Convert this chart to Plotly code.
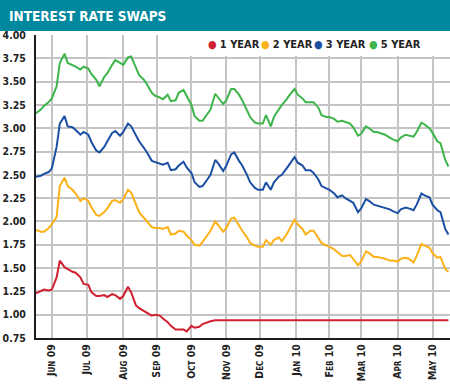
import plotly.graph_objects as go

# ---------------- data ----------------
dates = [
    "2009-05-18", "2009-05-21", "2009-05-25", "2009-05-28",
    "2009-06-01", "2009-06-04", "2009-06-08", "2009-06-11", "2009-06-15", "2009-06-18",
    "2009-06-22", "2009-06-25", "2009-06-29", "2009-07-02", "2009-07-06", "2009-07-09",
    "2009-07-13", "2009-07-16", "2009-07-20", "2009-07-23", "2009-07-27", "2009-07-30",
    "2009-08-03", "2009-08-06", "2009-08-10", "2009-08-13", "2009-08-17", "2009-08-20",
    "2009-08-24", "2009-08-27", "2009-08-31", "2009-09-03", "2009-09-07", "2009-09-10",
    "2009-09-14", "2009-09-17", "2009-09-21", "2009-09-24", "2009-09-28", "2009-10-01",
    "2009-10-05", "2009-10-08", "2009-10-12", "2009-10-15", "2009-10-19", "2009-10-22",
    "2009-10-26", "2009-10-29", "2009-11-02", "2009-11-05", "2009-11-09", "2009-11-12",
    "2009-11-16", "2009-11-19", "2009-11-23", "2009-11-26", "2009-11-30", "2009-12-03",
    "2009-12-07", "2009-12-10", "2009-12-14", "2009-12-17", "2009-12-21", "2009-12-24",
    "2009-12-28", "2009-12-31", "2010-01-04", "2010-01-07", "2010-01-11", "2010-01-14",
    "2010-01-18", "2010-01-21", "2010-01-25", "2010-01-28", "2010-02-01", "2010-02-04",
    "2010-02-08", "2010-02-11", "2010-02-15", "2010-02-18", "2010-02-22", "2010-02-25",
    "2010-03-01", "2010-03-04", "2010-03-08", "2010-03-11", "2010-03-15", "2010-03-18",
    "2010-03-22", "2010-03-25", "2010-03-29", "2010-04-01", "2010-04-05", "2010-04-08",
    "2010-04-12", "2010-04-15", "2010-04-19", "2010-04-22", "2010-04-26", "2010-04-29",
    "2010-05-03", "2010-05-06", "2010-05-10", "2010-05-13", "2010-05-17",
]

one_year = [
    1.23, 1.25, 1.27, 1.26, 1.27, 1.40, 1.58, 1.51, 1.49, 1.46,
    1.45, 1.40, 1.33, 1.32, 1.24, 1.20, 1.20, 1.21, 1.19, 1.22,
    1.21, 1.17, 1.20, 1.30, 1.24, 1.10, 1.07, 1.04, 1.02, 0.99,
    1.00, 0.99, 0.96, 0.92, 0.88, 0.84, 0.84, 0.84, 0.82, 0.88,
    0.86, 0.87, 0.90, 0.92, 0.93, 0.94, 0.94, 0.94, 0.94, 0.94,
    0.94, 0.94, 0.94, 0.94, 0.94, 0.94, 0.94, 0.94, 0.94, 0.94,
    0.94, 0.94, 0.94, 0.94, 0.94, 0.94, 0.94, 0.94, 0.94, 0.94,
    0.94, 0.94, 0.94, 0.94, 0.94, 0.94, 0.94, 0.94, 0.94, 0.94,
    0.94, 0.94, 0.94, 0.94, 0.94, 0.94, 0.94, 0.94, 0.94, 0.94,
    0.94, 0.94, 0.94, 0.94, 0.94, 0.94, 0.94, 0.94, 0.94, 0.94,
    0.94, 0.94, 0.94, 0.94, 0.94,
]

two_year = [
    1.91, 1.89, 1.89, 1.93, 1.97, 2.05, 2.38, 2.47, 2.38, 2.34,
    2.30, 2.22, 2.25, 2.22, 2.15, 2.07, 2.06, 2.10, 2.14, 2.22,
    2.23, 2.20, 2.24, 2.34, 2.31, 2.17, 2.10, 2.04, 2.00, 1.94,
    1.93, 1.93, 1.92, 1.94, 1.86, 1.87, 1.90, 1.89, 1.85, 1.80,
    1.75, 1.74, 1.78, 1.85, 1.90, 2.00, 1.96, 1.89, 1.93, 2.03,
    2.04, 1.95, 1.90, 1.83, 1.77, 1.74, 1.73, 1.73, 1.80, 1.75,
    1.80, 1.83, 1.79, 1.86, 1.93, 2.02, 1.97, 1.92, 1.86, 1.90,
    1.90, 1.82, 1.77, 1.74, 1.73, 1.70, 1.67, 1.63, 1.63, 1.64,
    1.60, 1.53, 1.57, 1.68, 1.66, 1.62, 1.62, 1.61, 1.60, 1.58,
    1.58, 1.57, 1.60, 1.61, 1.60, 1.56, 1.63, 1.76, 1.74, 1.72,
    1.66, 1.61, 1.62, 1.49, 1.46,
]

three_year = [
    2.48, 2.49, 2.51, 2.53, 2.57, 2.80, 3.05, 3.13, 3.02, 3.01,
    2.98, 2.93, 2.96, 2.93, 2.85, 2.76, 2.74, 2.80, 2.86, 2.95,
    2.97, 2.92, 2.96, 3.05, 3.02, 2.92, 2.86, 2.79, 2.74, 2.65,
    2.64, 2.62, 2.61, 2.63, 2.55, 2.56, 2.60, 2.64, 2.58, 2.52,
    2.42, 2.37, 2.38, 2.45, 2.50, 2.66, 2.62, 2.54, 2.60, 2.72,
    2.74, 2.65, 2.60, 2.50, 2.42, 2.36, 2.34, 2.34, 2.42, 2.34,
    2.42, 2.48, 2.50, 2.57, 2.62, 2.69, 2.63, 2.60, 2.55, 2.55,
    2.52, 2.45, 2.38, 2.36, 2.34, 2.30, 2.26, 2.28, 2.25, 2.22,
    2.20, 2.10, 2.14, 2.24, 2.22, 2.18, 2.17, 2.16, 2.15, 2.13,
    2.11, 2.09, 2.13, 2.15, 2.14, 2.12, 2.18, 2.30, 2.28, 2.26,
    2.18, 2.12, 2.10, 1.92, 1.86,
]

five_year = [
    3.16, 3.20, 3.24, 3.28, 3.32, 3.45, 3.70, 3.80, 3.70, 3.68,
    3.66, 3.63, 3.66, 3.64, 3.58, 3.52, 3.45, 3.55, 3.59, 3.68,
    3.73, 3.70, 3.68, 3.76, 3.77, 3.65, 3.57, 3.52, 3.47, 3.38,
    3.35, 3.33, 3.31, 3.36, 3.29, 3.30, 3.38, 3.41, 3.34, 3.25,
    3.13, 3.08, 3.08, 3.15, 3.20, 3.37, 3.33, 3.26, 3.30, 3.42,
    3.42, 3.36, 3.30, 3.20, 3.12, 3.06, 3.05, 3.05, 3.14, 3.02,
    3.12, 3.20, 3.25, 3.31, 3.36, 3.42, 3.36, 3.32, 3.28, 3.28,
    3.28, 3.22, 3.14, 3.12, 3.12, 3.10, 3.07, 3.08, 3.07, 3.05,
    3.01, 2.92, 2.94, 3.02, 3.00, 2.96, 2.96, 2.94, 2.93, 2.90,
    2.88, 2.86, 2.90, 2.93, 2.92, 2.91, 2.96, 3.06, 3.04, 3.00,
    2.95, 2.86, 2.84, 2.66, 2.59,
]

series_names = ["1 YEAR", "2 YEAR", "3 YEAR", "5 YEAR"]
series_colors = ["#d1202f", "#fbb117", "#1b4fa3", "#3db54a"]

tick_dates = ["2009-06-01", "2009-07-01", "2009-08-03", "2009-09-01", "2009-10-01",
              "2009-11-02", "2009-12-01", "2010-01-01", "2010-02-01", "2010-03-01",
              "2010-04-01", "2010-05-03"]
tick_labels = ["Jun 09", "Jul 09", "Aug 09", "Sep 09", "Oct 09", "Nov 09",
               "Dec 09", "Jan 10", "Feb 10", "Mar 10", "Apr 10", "May 10"]

title_text = "INTEREST RATE SWAPS"

# ---------------- figure ----------------
FONT = "DejaVu Sans Condensed, DejaVu Sans"
TXT = "#222222"


def small_caps(label):
    word, yr = label.split(" ")
    return (word[0].upper()
            + "<span style='font-size:8px'>" + word[1:].upper() + "</span> " + yr)


fig = go.Figure()
for name, vals, col in zip(series_names, [one_year, two_year, three_year, five_year],
                           series_colors):
    fig.add_trace(go.Scatter(x=dates, y=vals, mode="lines", name=name,
                             line=dict(color=col, width=2), showlegend=False))

W, H = 450, 390
L, R, T, B = 36, 0, 35, 52
PW, PH = W - L - R, H - T - B


def px_x(p):
    return (p - L) / PW


def px_y(p):
    return (H - B - p) / PH


shapes = [
    # title bar
    dict(type="rect", xref="paper", yref="paper", x0=px_x(-2), x1=px_x(W + 2),
         y0=px_y(31), y1=px_y(-2), fillcolor="#00889f", line=dict(width=0), layer="above"),
    # legend box
    dict(type="rect", xref="paper", yref="paper", x0=px_x(187), x1=px_x(437),
         y0=px_y(56), y1=px_y(31), fillcolor="white", line=dict(width=0), layer="above"),
]

annotations = [
    dict(text="<b>" + title_text + "</b>", xref="paper", yref="paper",
         x=px_x(7), y=px_y(16), xanchor="left", yanchor="middle", showarrow=False,
         font=dict(family=FONT, size=13.5, color="white")),
]
leg_x = [206, 259, 312, 367]
for name, col, lx in zip(series_names, series_colors, leg_x):
    annotations.append(dict(
        text="<span style='color:%s'>●</span> <b>%s</b>" % (col, name),
        xref="paper", yref="paper", x=px_x(lx), y=px_y(45),
        xanchor="left", yanchor="middle", showarrow=False,
        font=dict(family=FONT, size=11, color=TXT)))

fig.update_layout(
    width=W, height=H,
    margin=dict(l=L, r=R, t=T, b=B, pad=0),
    paper_bgcolor="white", plot_bgcolor="white",
    showlegend=False,
    shapes=shapes, annotations=annotations,
    xaxis=dict(
        type="date", range=["2009-05-18", "2010-05-18"],
        rangebreaks=[dict(bounds=["sat", "mon"])],
        tickmode="array", tickvals=tick_dates,
        ticktext=[small_caps(t) for t in tick_labels],
        tickangle=-90, ticks="",
        tickfont=dict(family=FONT, size=10.5, color=TXT, weight="bold"),
        showgrid=True, gridcolor="#c4c4c4", gridwidth=1.5,
        showline=True, linecolor="#1e1e1e", linewidth=2,
        zeroline=False, fixedrange=True,
    ),
    yaxis=dict(
        range=[0.75, 4.0], tickmode="linear", tick0=0.75, dtick=0.25,
        tickformat=".2f", ticks="", ticklabelstandoff=6,
        tickfont=dict(family=FONT, size=10.5, color=TXT, weight="bold"),
        showgrid=True, gridcolor="#c4c4c4", gridwidth=1.5,
        showline=True, linecolor="#1e1e1e", linewidth=2,
        zeroline=False, fixedrange=True,
    ),
)

fig.write_html(
    "out.html",
    config=dict(displayModeBar=False),
    post_script="document.body.style.margin='0';document.body.style.overflow='hidden';",
)
